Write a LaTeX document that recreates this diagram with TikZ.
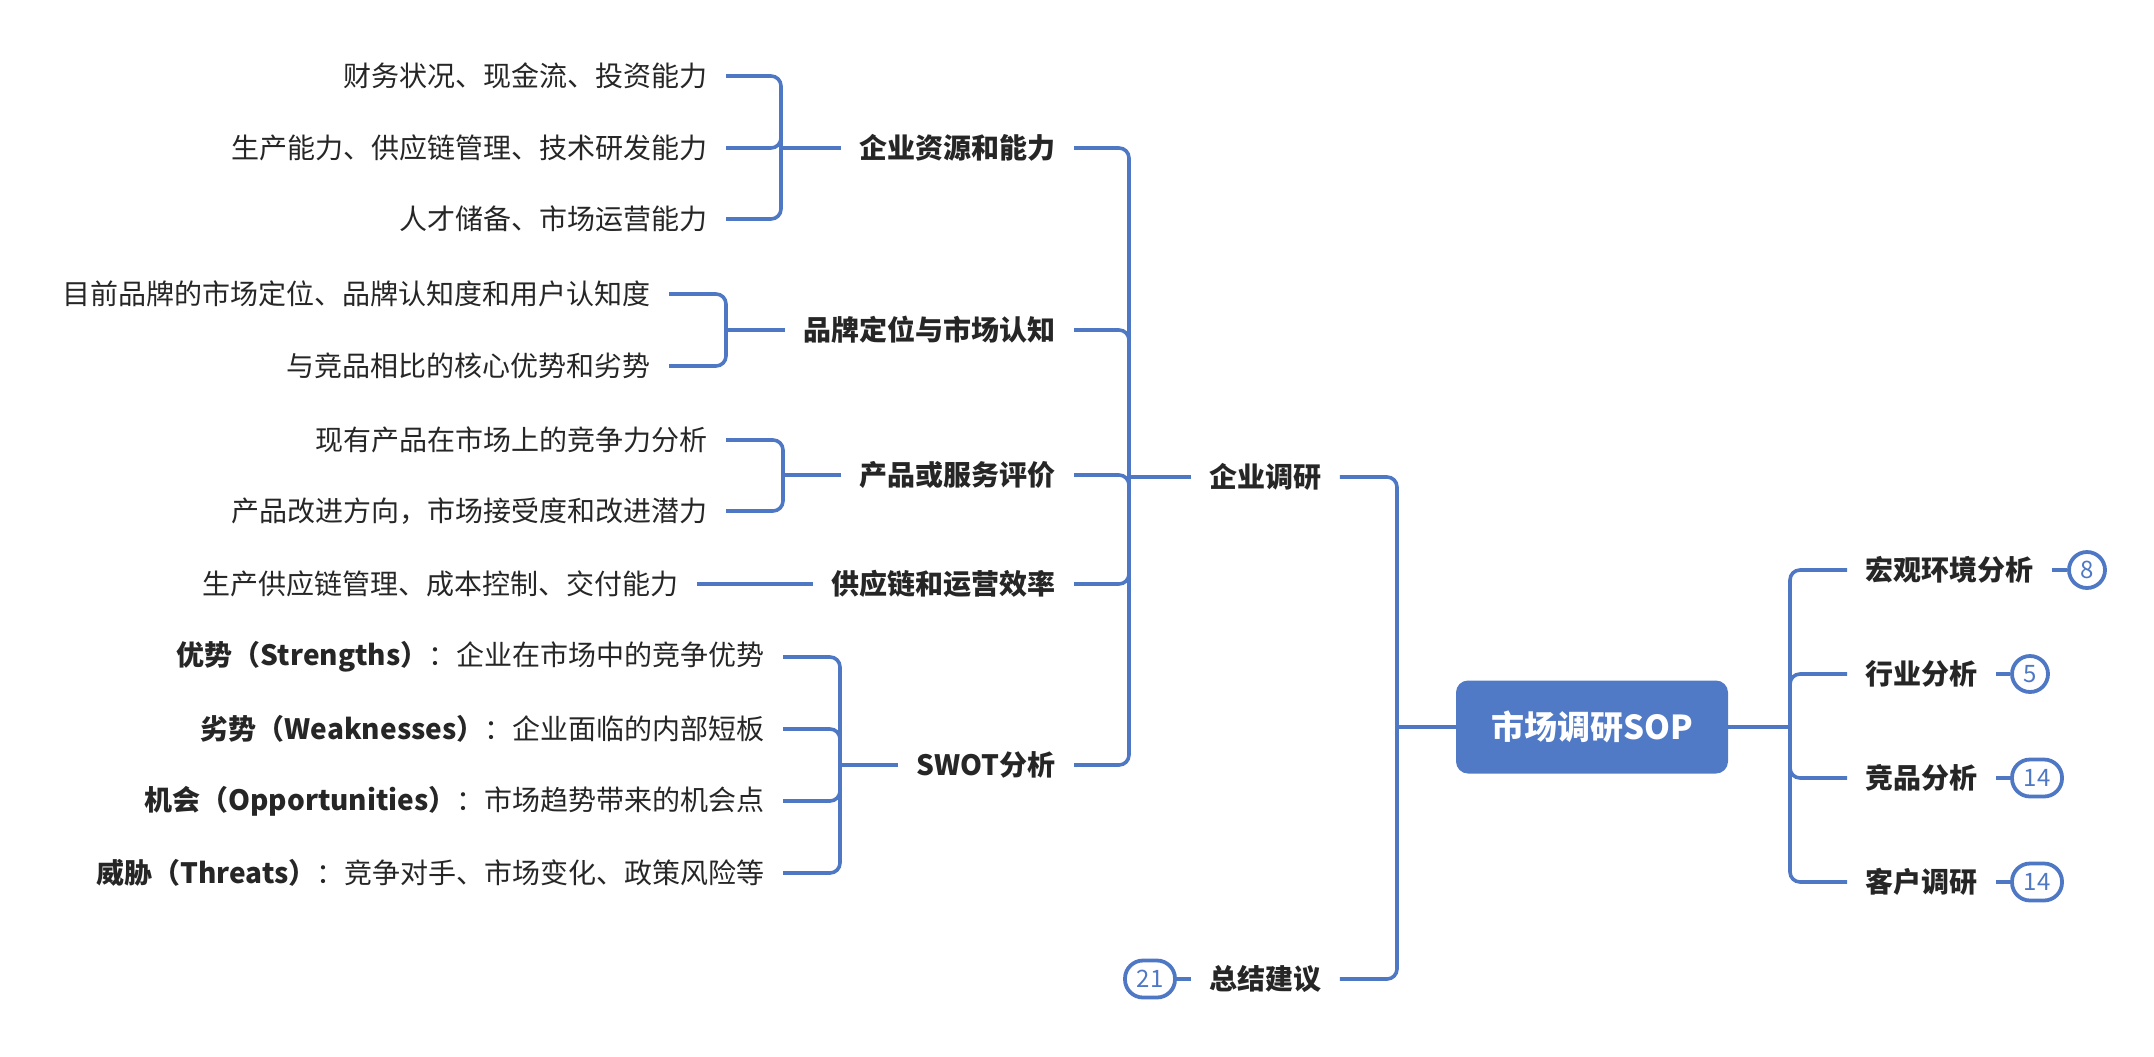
\documentclass[tikz,border=0pt]{standalone}
\usepackage{fontspec}
\setmainfont{Noto Sans CJK SC}
\definecolor{mblue}{RGB}{79,120,196}
\definecolor{rootblue}{RGB}{80,121,198}
\definecolor{tcol}{RGB}{38,38,38}
\begin{document}
\begin{tikzpicture}[x=0.5pt,y=-0.5pt,
  conn/.style={draw=mblue, line width=1.8pt},
  brk/.style={conn, rounded corners=5pt},
  rootbox/.style={fill=rootblue, rounded corners=6pt, minimum width=136pt, minimum height=46.5pt,
    text=white, font=\fontsize{16.5}{18}\selectfont\bfseries, inner sep=0pt},
  lvtwo/.style={font=\fontsize{14}{16}\selectfont\bfseries, text=tcol, inner xsep=9pt, inner ysep=2pt},
  lvthree/.style={font=\fontsize{14}{16}\selectfont, text=tcol, inner xsep=9pt, inner ysep=2pt, anchor=east},
  badgeone/.style={circle, draw=mblue, line width=1.9pt, fill=white, minimum size=18pt, inner sep=0pt,
    text=mblue, font=\fontsize{12}{13}\selectfont},
  badgetwo/.style={rectangle, rounded corners=9pt, draw=mblue, line width=1.9pt, fill=white,
    minimum width=25pt, minimum height=18.5pt, inner sep=0pt, text=mblue, font=\fontsize{12}{13}\selectfont}
]
\useasboundingbox (0,0) rectangle (2154,1056);

% root
\node[rootbox] (root) at (1592,727) {市场调研SOP};

% right branches
\node[lvtwo, anchor=west] (r1) at (1847,570) {宏观环境分析};
\node[lvtwo, anchor=west] (r2) at (1847,674) {行业分析};
\node[lvtwo, anchor=west] (r3) at (1847,778) {竞品分析};
\node[lvtwo, anchor=west] (r4) at (1847,882) {客户调研};
\node[badgeone] (b1) at (2087,570) {8};
\node[badgeone] (b2) at (2030,674) {5};
\node[badgetwo] (b3) at (2037,778) {14};
\node[badgetwo] (b4) at (2037,882) {14};

\coordinate (rj) at (1790,727);
\draw[conn] (root.east) -- (rj);
\foreach \n in {r1,r2,r3,r4} \draw[brk] (rj) |- (\n.west);
\draw[conn] (r1.east) -- (b1.west);
\draw[conn] (r2.east) -- (b2.west);
\draw[conn] (r3.east) -- (b3.west);
\draw[conn] (r4.east) -- (b4.west);

% left main branches
\node[lvtwo, anchor=west] (a) at (1191,477) {企业调研};
\node[lvtwo, anchor=west] (z) at (1191,979) {总结建议};
\node[badgetwo] (b5) at (1150,979) {21};
\coordinate (lj) at (1397,727);
\draw[conn] (root.west) -- (lj);
\draw[brk] (lj) |- (a.east);
\draw[brk] (lj) |- (z.east);
\draw[conn] (b5.east) -- (z.west);

% level 2 under 企业调研
\node[lvtwo, anchor=east] (g1) at (1074,148) {企业资源和能力};
\node[lvtwo, anchor=east] (g2) at (1074,330) {品牌定位与市场认知};
\node[lvtwo, anchor=east] (g3) at (1074,475) {产品或服务评价};
\node[lvtwo, anchor=east] (g4) at (1074,584) {供应链和运营效率};
\node[lvtwo, anchor=east] (g5) at (1074,765) {SWOT分析};
\coordinate (aj) at (1129,477);
\draw[conn] (a.west) -- (aj);
\foreach \n in {g1,g2,g3,g4,g5} \draw[brk] (aj) |- (\n.east);

% 企业资源和能力
\node[lvthree] (g11) at (726,76) {财务状况、现金流、投资能力};
\node[lvthree] (g12) at (726,148) {生产能力、供应链管理、技术研发能力};
\node[lvthree] (g13) at (726,219) {人才储备、市场运营能力};
\coordinate (g1j) at (781,148);
\draw[conn] (g1.west) -- (g1j);
\foreach \n in {g11,g12,g13} \draw[brk] (g1j) |- (\n.east);

% 品牌定位与市场认知
\node[lvthree] (g21) at (669,294) {目前品牌的市场定位、品牌认知度和用户认知度};
\node[lvthree] (g22) at (669,366) {与竞品相比的核心优势和劣势};
\coordinate (g2j) at (726,330);
\draw[conn] (g2.west) -- (g2j);
\foreach \n in {g21,g22} \draw[brk] (g2j) |- (\n.east);

% 产品或服务评价
\node[lvthree] (g31) at (726,440) {现有产品在市场上的竞争力分析};
\node[lvthree] (g32) at (726,511) {产品改进方向，市场接受度和改进潜力};
\coordinate (g3j) at (783,475);
\draw[conn] (g3.west) -- (g3j);
\foreach \n in {g31,g32} \draw[brk] (g3j) |- (\n.east);

% 供应链和运营效率
\node[lvthree] (g41) at (697,584) {生产供应链管理、成本控制、交付能力};
\draw[conn] (g4.west) -- (g41.east);

% SWOT
\node[lvthree] (g51) at (783,657) {\textbf{优势（Strengths）}：企业在市场中的竞争优势};
\node[lvthree] (g52) at (783,729) {\textbf{劣势（Weaknesses）}：企业面临的内部短板};
\node[lvthree] (g53) at (783,801) {\textbf{机会（Opportunities）}：市场趋势带来的机会点};
\node[lvthree] (g54) at (783,873) {\textbf{威胁（Threats）}：竞争对手、市场变化、政策风险等};
\coordinate (g5j) at (840,765);
\draw[conn] (g5.west) -- (g5j);
\foreach \n in {g51,g52,g53,g54} \draw[brk] (g5j) |- (\n.east);
\end{tikzpicture}
\end{document}
